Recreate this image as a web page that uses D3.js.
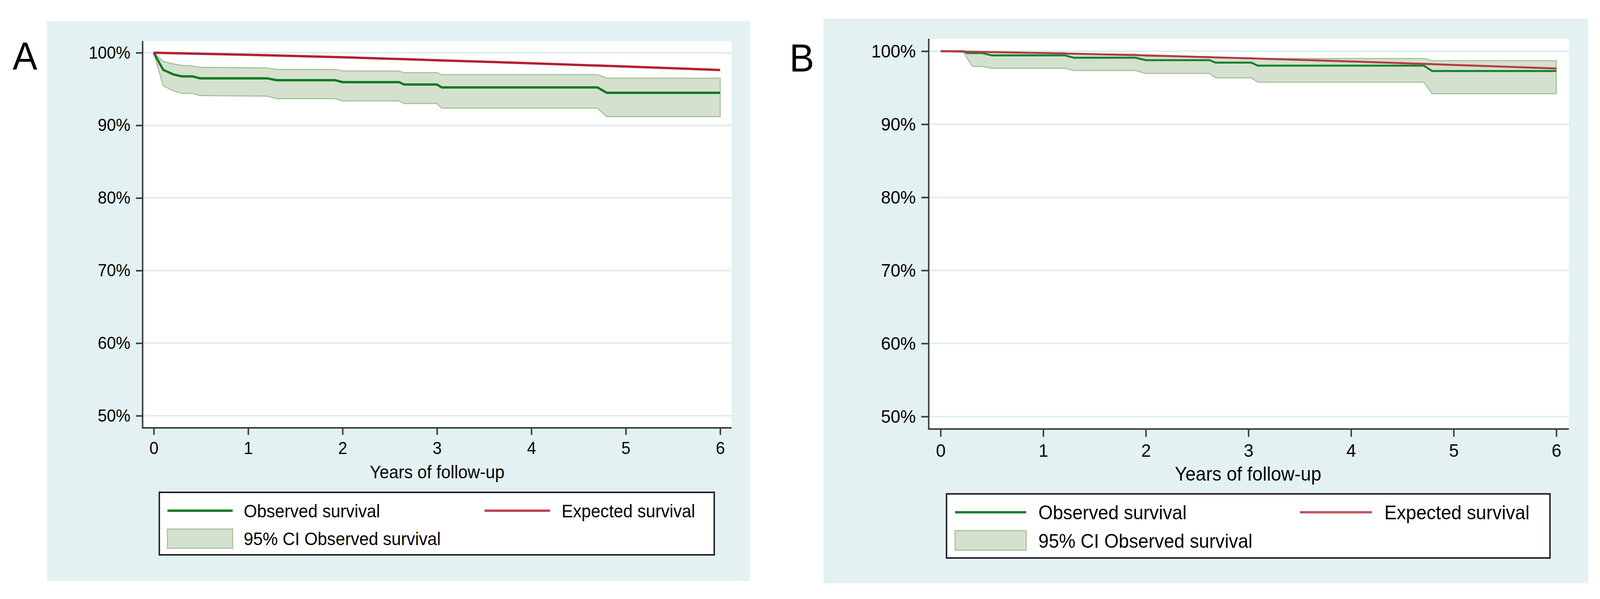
<!DOCTYPE html>
<html>
<head>
<meta charset="utf-8">
<script src="https://cdn.jsdelivr.net/npm/d3@7/dist/d3.min.js"></script>
<style>
  html, body { margin: 0; padding: 0; background: #ffffff; overflow: hidden; }
  svg { display: block; width: 100vw; height: 100vh; }
  text { font-family: "Liberation Sans", Arial, Helvetica, sans-serif; fill: #000; }
</style>
</head>
<body>
<svg id="chart" viewBox="0 0 4319 1533" preserveAspectRatio="none"></svg>
<script>
// ---------------- DATA ----------------
const yTicks = [50, 60, 70, 80, 90, 100];
const xTicks = [0, 1, 2, 3, 4, 5, 6];
const xTitle = "Years of follow-up";
const legendLabels = ["Observed survival", "Expected survival", "95% CI Observed survival"];
const panelLabels = ["A", "B"];

// Panel A
const timeA     = [0, 0.10, 0.21, 0.30, 0.41, 0.49, 1.20, 1.30, 1.92, 2.00, 2.60, 2.65, 3.00, 3.05, 4.70, 4.80, 6.00];
const observedA = [100, 97.65, 97.0, 96.75, 96.75, 96.48, 96.48, 96.22, 96.22, 95.95, 95.95, 95.63, 95.63, 95.22, 95.22, 94.48, 94.48];
const upperA    = [100, 98.8, 98.45, 98.27, 98.18, 98.0, 97.9, 97.7, 97.7, 97.48, 97.48, 97.25, 97.25, 96.98, 96.98, 96.5, 96.5];
const lowerA    = [100, 95.45, 94.75, 94.4, 94.4, 94.1, 94.03, 93.68, 93.68, 93.37, 93.37, 93.0, 93.0, 92.37, 92.37, 91.2, 91.2];
const expTimeA  = [0, 1, 2, 3, 4, 5, 6];
const expectedA = [100, 99.72, 99.38, 98.97, 98.55, 98.1, 97.62];

// Panel B
const timeB     = [0, 0.22, 0.26, 0.31, 0.40, 0.50, 1.21, 1.30, 1.90, 2.00, 2.62, 2.68, 3.03, 3.09, 4.71, 4.79, 6.00];
const observedB = [100, 100, 99.75, 99.75, 99.75, 99.42, 99.42, 99.1, 99.1, 98.77, 98.77, 98.43, 98.43, 98.02, 98.02, 97.28, 97.28];
const upperB    = [100, 100, 99.95, 99.92, 99.92, 99.8, 99.8, 99.6, 99.6, 99.28, 99.28, 99.1, 99.1, 99.0, 99.0, 98.7, 98.7];
const lowerB    = [100, 100, 99.0, 97.93, 97.93, 97.67, 97.67, 97.35, 97.35, 96.97, 96.97, 96.35, 96.35, 95.76, 95.76, 94.19, 94.19];
const expTimeB  = [0, 1, 2, 3, 4, 5, 6];
const expectedB = [100, 99.75, 99.42, 99.03, 98.6, 98.12, 97.63];

// ---------------- LAYOUT / STYLE ----------------
const BG = "#e3f1f2", GRID = "#deedef", AXIS = "#3c3c3c";
const panels = [
  { label: panelLabels[0], letter: {x: 34, y: 178},
    bg: {x0: 127, y0: 54, x1: 2025, y1: 1487},
    plot: {x0: 385, y0: 105, x1: 1975, y1: 1095},
    xr: [415, 1944], yr: [1064, 135],
    t: timeA, obs: observedA, up: upperA, lo: lowerA, et: expTimeA, ex: expectedA,
    green: "#0f7a22", red: "#b31f33", lw: 6,
    tickFont: 44, font: 46, tickLen: 18,
    title: {x: 1180, y: 1224},
    legend: {x0: 430, y0: 1260, x1: 1928, y1: 1420, r1: 1307, r2: 1378,
             s0: 452, s1: 628, lab: 658, e0: 1308, e1: 1485, elab: 1516, p0: 1354, p1: 1403} },
  { label: panelLabels[1], letter: {x: 2131, y: 183},
    bg: {x0: 2223, y0: 48, x1: 4287, y1: 1493},
    plot: {x0: 2507, y0: 99, x1: 4235, y1: 1098},
    xr: [2539, 4201], yr: [1066, 131],
    t: timeB, obs: observedB, up: upperB, lo: lowerB, et: expTimeB, ex: expectedB,
    green: "#13812a", red: "#b53b45", lw: 5,
    tickFont: 47, font: 50, tickLen: 20,
    title: {x: 3369, y: 1230},
    legend: {x0: 2555, y0: 1264, x1: 4184, y1: 1428, r1: 1311, r2: 1384,
             s0: 2578, s1: 2770, lab: 2803, e0: 3509, e1: 3703, elab: 3737, p0: 1358, p1: 1408} }
];

const svg = d3.select("#chart");

panels.forEach(p => {
  const g = svg.append("g");
  g.append("rect").attr("x", p.bg.x0).attr("y", p.bg.y0)
    .attr("width", p.bg.x1 - p.bg.x0).attr("height", p.bg.y1 - p.bg.y0).attr("fill", BG);
  g.append("rect").attr("x", p.plot.x0).attr("y", p.plot.y0)
    .attr("width", p.plot.x1 - p.plot.x0).attr("height", p.plot.y1 - p.plot.y0).attr("fill", "#ffffff");

  const x = d3.scaleLinear().domain([0, 6]).range(p.xr);
  const y = d3.scaleLinear().domain([50, 100]).range(p.yr);

  g.append("g").selectAll("line").data(yTicks).join("line")
    .attr("x1", p.plot.x0).attr("x2", p.plot.x1)
    .attr("y1", d => y(d)).attr("y2", d => y(d))
    .attr("stroke", GRID).attr("stroke-width", 4);

  const ci = p.t.map((tt, i) => ({t: tt, lo: p.lo[i], up: p.up[i]}));
  g.append("path").datum(ci)
    .attr("d", d3.area().x(d => x(d.t)).y0(d => y(d.lo)).y1(d => y(d.up)))
    .attr("fill", "#d5e1cf").attr("stroke", "#a9c39c").attr("stroke-width", 3);

  const obs = p.t.map((tt, i) => ({t: tt, v: p.obs[i]}));
  g.append("path").datum(obs)
    .attr("d", d3.line().x(d => x(d.t)).y(d => y(d.v)))
    .attr("fill", "none").attr("stroke", p.green).attr("stroke-width", p.lw);

  const ex = p.et.map((tt, i) => ({t: tt, v: p.ex[i]}));
  g.append("path").datum(ex)
    .attr("d", d3.line().x(d => x(d.t)).y(d => y(d.v)).curve(d3.curveMonotoneX))
    .attr("fill", "none").attr("stroke", p.red).attr("stroke-width", p.lw);

  const ya = g.append("g").attr("transform", `translate(${p.plot.x0},0)`)
    .call(d3.axisLeft(y).tickValues(yTicks).tickFormat(d => d + "%")
      .tickSize(p.tickLen).tickPadding(15));
  ya.select(".domain").remove();
  ya.selectAll(".tick line").attr("stroke", AXIS).attr("stroke-width", 4);
  ya.selectAll(".tick text").attr("font-size", p.tickFont)
    .attr("font-family", '"Liberation Sans", Arial, sans-serif').attr("fill", "#000");

  const xa = g.append("g").attr("transform", `translate(0,${p.plot.y1})`)
    .call(d3.axisBottom(x).tickValues(xTicks).tickFormat(d3.format("d"))
      .tickSize(p.tickLen).tickPadding(18));
  xa.select(".domain").remove();
  xa.selectAll(".tick line").attr("stroke", AXIS).attr("stroke-width", 4);
  xa.selectAll(".tick text").attr("font-size", p.tickFont)
    .attr("font-family", '"Liberation Sans", Arial, sans-serif').attr("fill", "#000");

  g.append("line").attr("x1", p.plot.x0).attr("x2", p.plot.x0)
    .attr("y1", p.plot.y0).attr("y2", p.plot.y1 + 2)
    .attr("stroke", AXIS).attr("stroke-width", 4);
  g.append("line").attr("x1", p.plot.x0 - 2).attr("x2", p.plot.x1)
    .attr("y1", p.plot.y1).attr("y2", p.plot.y1)
    .attr("stroke", AXIS).attr("stroke-width", 4);

  g.append("text").attr("x", p.title.x).attr("y", p.title.y)
    .attr("text-anchor", "middle").attr("font-size", p.font).text(xTitle);

  const L = p.legend;
  g.append("rect").attr("x", L.x0).attr("y", L.y0)
    .attr("width", L.x1 - L.x0).attr("height", L.y1 - L.y0)
    .attr("fill", "#ffffff").attr("stroke", "#222").attr("stroke-width", 4);
  g.append("line").attr("x1", L.s0).attr("x2", L.s1).attr("y1", L.r1).attr("y2", L.r1)
    .attr("stroke", p.green).attr("stroke-width", 6);
  g.append("text").attr("x", L.lab).attr("y", L.r1 + p.font * 0.36)
    .attr("font-size", p.font).text(legendLabels[0]);
  g.append("line").attr("x1", L.e0).attr("x2", L.e1).attr("y1", L.r1).attr("y2", L.r1)
    .attr("stroke", p.red).attr("stroke-width", 6).attr("opacity", 0.85);
  g.append("text").attr("x", L.elab).attr("y", L.r1 + p.font * 0.36)
    .attr("font-size", p.font).text(legendLabels[1]);
  g.append("rect").attr("x", L.s0).attr("y", L.p0)
    .attr("width", L.s1 - L.s0).attr("height", L.p1 - L.p0)
    .attr("fill", "#d5e1cf").attr("stroke", "#a9c39c").attr("stroke-width", 3);
  g.append("text").attr("x", L.lab).attr("y", L.r2 + p.font * 0.36)
    .attr("font-size", p.font).text(legendLabels[2]);

  svg.append("text").attr("x", p.letter.x).attr("y", p.letter.y)
    .attr("font-family", '"Liberation Serif", "Times New Roman", serif')
    .attr("font-size", 100).text(p.label);
});
</script>
</body>
</html>
